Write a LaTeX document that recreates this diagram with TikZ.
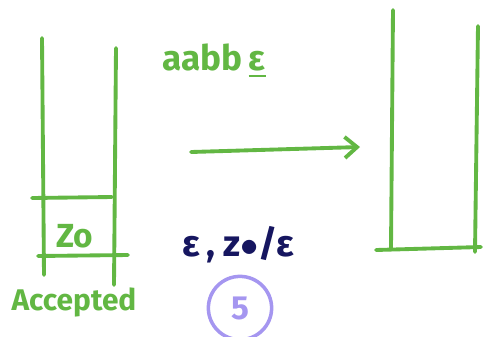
\documentclass[tikz,border=0pt]{standalone}
\usepackage{amsmath,bm}
\usepackage{fontspec}
\setmainfont{Fira Sans}
\usetikzlibrary{arrows.meta,positioning}
\definecolor{penGreen}{RGB}{98,183,67}
\definecolor{penNavy}{RGB}{22,22,96}
\definecolor{penLilac}{RGB}{165,150,240}
\tikzset{
  ink/.style ={draw=penGreen,line width=2.2pt,line cap=round},
  gtxt/.style={text=penGreen,font=\fontsize{19}{22}\selectfont\bfseries,inner sep=0pt},
  ntxt/.style={text=penNavy,font=\fontsize{21}{24}\selectfont\bfseries,inner sep=0pt},
}
\begin{document}
\begin{tikzpicture}[x=0.02cm,y=-0.02cm]
  \useasboundingbox (0,0) rectangle (484,336);
  % left stack
  \draw[ink] (42,38) -- (44,275);
  \draw[ink] (116,48) -- (114,285);
  \draw[ink] (32,198) -- (112,197);
  \draw[ink] (38,256) -- (128,255);
  \node[gtxt] (zo) at (75,236) {Zo};
  \node[gtxt,font=\fontsize{17}{20}\selectfont\bfseries] (acc) at (74,302) {Accepted};
  % right stack
  \draw[ink] (393,10) -- (391,248);
  \draw[ink] (478,26) -- (475,252);
  \draw[ink] (376,250) -- (481,247);
  % input and transition
  \node[gtxt,font=\fontsize{20}{23}\selectfont\bfseries] (inp) at (214,61) {aabb\,\underline{ε}};
  \coordinate (from) at (191,152);
  \coordinate (to) at (360,147);
  \draw[ink,-{Straight Barb[length=7pt,width=12pt]}] (from) -- (to);
  \node[ntxt] (rule) at (238,245) {ε\,, z$\bullet$/ε};
  \node[draw=penLilac,line width=2pt,circle,minimum size=36pt,inner sep=0pt,
        text=penLilac,font=\fontsize{19}{22}\selectfont\bfseries] (step5) at (240,308) {5};
\end{tikzpicture}
\end{document}
